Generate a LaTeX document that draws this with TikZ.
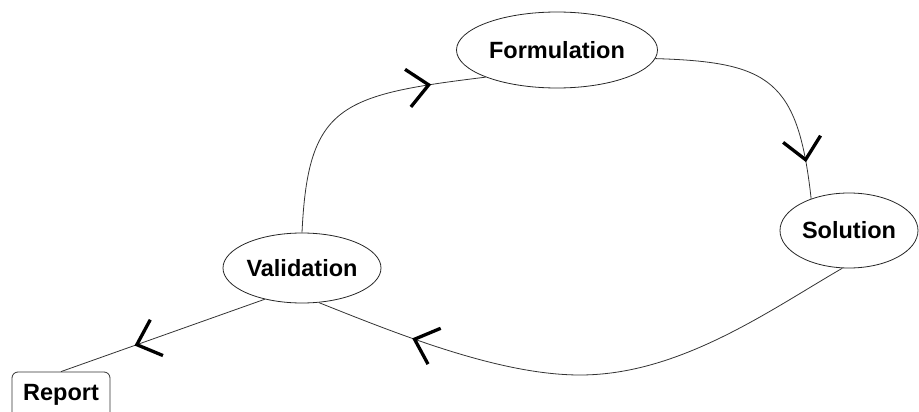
\documentclass[tikz,border=0pt]{standalone}
\usepackage{fontspec}
\setmainfont{Liberation Sans}
\usetikzlibrary{shapes.geometric,decorations.markings,arrows.meta}
\begin{document}
\begin{tikzpicture}[x=1pt,y=-1pt,
  stage/.style={draw=black!85, line width=0.8pt, ellipse, inner sep=0pt,
    font=\fontsize{23.5}{27}\selectfont\bfseries},
  outbox/.style={draw=black!80, line width=0.8pt, rounded corners=6pt, inner sep=0pt,
    font=\fontsize{23.5}{27}\selectfont\bfseries},
  flow/.style={draw=black!80, line width=0.8pt},
  midarrow/.style={postaction={decorate}, decoration={markings,
    mark=at position #1 with {\arrow{Straight Barb[length=21pt,width=38pt,line width=3.3pt,color=black]}}}},
]
\useasboundingbox (0,0) rectangle (919,412);
\clip (0,0) rectangle (919,412);

\node[stage, minimum width=201pt, minimum height=76pt] (f) at (557,50) {Formulation};
\node[stage, minimum width=138pt, minimum height=75pt] (s) at (849,230.5) {Solution};
\node[stage, minimum width=158pt, minimum height=70pt] (v) at (302,268) {Validation};
\node[outbox, minimum width=98pt, minimum height=46pt] (r) at (61,395) {Report};

\draw[flow, midarrow=-55pt] (v.north) .. controls (308,105) and (340,95) .. (f.south west);
\draw[flow, midarrow=-37pt] (f.-5) .. controls (770,62) and (798,80) .. (s.140);
\draw[flow, midarrow=-100pt] (s.260) .. controls (770,310) and (680,375) .. (580,375)
   .. controls (500,375) and (400,335) .. (v.296);
\draw[flow, midarrow=-78pt] (v.220) -- (r.north);
\end{tikzpicture}
\end{document}
